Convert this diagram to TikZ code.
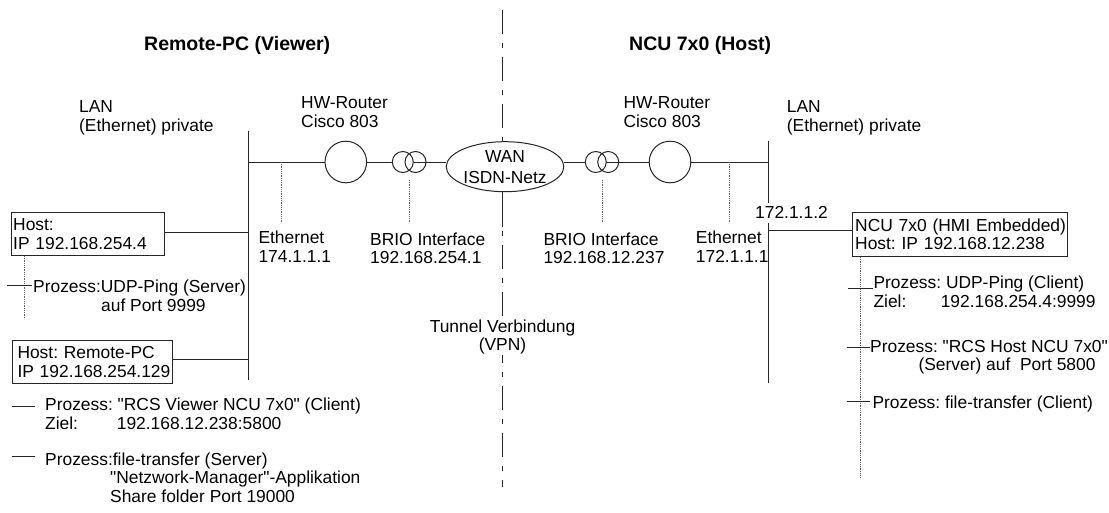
\documentclass[tikz,border=0pt]{standalone}
\usepackage{fontspec}
\setmainfont{Liberation Sans}[Ligatures=TeXOff]
\usetikzlibrary{shapes.geometric,calc}
\newcommand\tx{\fontsize{17.4}{18.5}\selectfont\frenchspacing}
\begin{document}
\frenchspacing
\begin{tikzpicture}[x=1pt,y=-1pt,
  lbl/.style={anchor=base west,inner sep=0pt,align=left,font=\tx},
  ttl/.style={anchor=base west,inner sep=0pt,font=\fontsize{19.5}{22}\selectfont\bfseries},
  ln/.style={draw=black!85,line width=1pt},
  dotln/.style={draw=black!60,line width=0.8pt,densely dotted},
  router/.style={circle,draw=black!85,line width=1pt,minimum size=41.6pt,inner sep=0pt},
  tcirc/.style={circle,draw=black!85,line width=1pt,minimum size=21pt,inner sep=0pt},
  hostbox/.style={draw=black!85,line width=1pt,anchor=north west,align=left,font=\tx,inner ysep=0pt},
]
\useasboundingbox (0,0) rectangle (1109,512);

% titles
\node[ttl] (t1) at (144,50.7) {Remote-PC (Viewer)};
\node[ttl] (t2) at (629,50.7) {NCU 7x0 (Host)};

% centre dash-dot separator
\coordinate (ctop) at (502.5,10);
\coordinate (cbot) at (502.5,487);
\draw[ln,dash pattern=on 24pt off 9pt on 5pt off 9pt] (ctop) -- (cbot);

% LAN lines
\coordinate (lanLt) at (248,130.7);
\coordinate (lanLb) at (248,380);
\coordinate (lanRt) at (768,140.7);
\coordinate (lanRb) at (768,383);
\draw[ln] (lanLt) -- (lanLb);
\draw[ln] (lanRt) -- (lanRb);

% routers, transformers, WAN
\node[router] (r1) at (345.8,162) {};
\node[tcirc] (ta1) at (402.8,162) {};
\node[tcirc] (ta2) at (415.5,162) {};
\node[ellipse,draw=black!85,line width=1pt,fill=white,minimum width=105pt,minimum height=50pt,inner sep=0pt,align=center,font=\fontsize{17.4}{21}\selectfont] (wan) at (505,166.7) {WAN\\ISDN-Netz};
\node[tcirc] (tb1) at (595.8,162) {};
\node[tcirc] (tb2) at (608.2,162) {};
\node[router] (r2) at (670,162) {};

\draw[ln] (r1.west -| lanLt) -- (r1.west);
\draw[ln] (r1.east) -- (ta1.west);
\draw[ln] (ta1.east) -- (ta1.east -| wan.west);
\draw[ln] (tb1.west -| wan.east) -- (tb1.west);
\draw[ln] (tb1.east) -- (r2.west);
\draw[ln] (r2.east) -- (r2.east -| lanRt);
\coordinate (wanb) at (502.5,227);
\draw[ln] (wanb |- wan.south) -- (wanb);

% dotted drops
\coordinate (dA) at (281.7,221.7);
\draw[dotln] (dA |- r1.west) -- (dA);
\coordinate (dBt) at (409,180);
\coordinate (dB) at (409,221.7);
\draw[dotln] (dBt) -- (dB);
\coordinate (dCt) at (602,180);
\coordinate (dC) at (602,221.7);
\draw[dotln] (dCt) -- (dC);
\coordinate (dD) at (729,221.7);
\draw[dotln] (dD |- r2.east) -- (dD);

% labels (anchor = baseline of the last line)
\node[lbl] (lanL) at (79,131.2) {LAN\\(Ethernet) private};
\node[lbl] (hw1) at (301,127.2) {HW-Router\\Cisco 803};
\node[lbl] (hw2) at (623.3,127.2) {HW-Router\\Cisco 803};
\node[lbl] (lanR) at (786.7,131.2) {LAN\\(Ethernet) private};
\node[lbl] (eth1) at (258.3,262.2) {Ethernet\\174.1.1.1};
\node[lbl] (brio1) at (370,263.5) {BRIO Interface\\192.168.254.1};
\node[lbl] (brio2) at (543.3,263.5) {BRIO Interface\\192.168.12.237};
\node[lbl] (eth2) at (695.7,262.2) {Ethernet\\172.1.1.1};
\node[lbl,fill=white,inner ysep=4pt] (ip2) at (755,218.7) {172.1.1.2};
\node[anchor=base,inner sep=1pt,align=center,font=\tx,fill=white] (tun) at (502.5,350.5) {Tunnel Verbindung\\(VPN)};

% hosts
\node[hostbox,inner xsep=2pt,text width=149.6pt,minimum height=43.3pt] (h1) at (10.7,211.7) {\mbox{Host:}\\\mbox{IP 192.168.254.4}};
\node[hostbox,inner xsep=5.3pt,text width=149.4pt,minimum height=43pt] (h2) at (11.7,340) {\mbox{Host: Remote-PC}\\\mbox{IP 192.168.254.129}};
\node[hostbox,inner xsep=3pt,text width=209pt,minimum height=44.3pt] (ncu) at (851.7,211.7) {\mbox{NCU 7x0 (HMI Embedded)}\\\mbox{Host: IP 192.168.12.238}};

\draw[ln] ([yshift=1.6pt]h1.east) -- ([yshift=1.6pt]h1.east -| lanLt);
\draw[ln] ([yshift=2.5pt]h2.east) -- ([yshift=2.5pt]h2.east -| lanLt);
\draw[ln] ([yshift=3.9pt]ncu.west) -- ([yshift=3.9pt]ncu.west -| lanRt);

% left processes
\coordinate (dL) at (24,319);
\draw[dotln] (dL |- h1.south) -- (dL);
\coordinate (pA1) at (7,285);
\coordinate (pA2) at (32,285);
\draw[ln] (pA1) -- (pA2);
\node[lbl] (p1) at (33,311) {Prozess:UDP-Ping (Server)\\\hspace*{68pt}auf Port 9999};
\coordinate (pB1) at (11.7,406);
\coordinate (pB2) at (35,406);
\draw[ln] (pB1) -- (pB2);
\node[lbl] (p2) at (45,429) {Prozess: "RCS Viewer NCU 7x0" (Client)\\\makebox[71.7pt][l]{Ziel:}192.168.12.238:5800};
\coordinate (pC1) at (12,456.7);
\coordinate (pC2) at (35,456.7);
\draw[ln] (pC1) -- (pC2);
\node[lbl] (p3) at (45,502) {Prozess:file-transfer (Server)\\\hspace*{65pt}"Netzwork-Manager"-Applikation\\\hspace*{65pt}Share folder Port 19000};

% right processes
\coordinate (dR) at (860,476.7);
\draw[dotln] (dR |- ncu.south) -- (dR);
\coordinate (qA1) at (848.3,288.3);
\coordinate (qA2) at (873.3,288.3);
\draw[ln] (qA1) -- (qA2);
\node[lbl] (q1) at (873.3,307) {Prozess: UDP-Ping (Client)\\\makebox[67.3pt][l]{Ziel:}192.168.254.4:9999};
\coordinate (qB1) at (846.7,347.7);
\coordinate (qB2) at (870,347.7);
\draw[ln] (qB1) -- (qB2);
\node[lbl] (q2) at (870,370.5) {Prozess: "RCS Host NCU 7x0"\\\hspace*{48.3pt}(Server) auf\ \ Port 5800};
\coordinate (qC1) at (846.7,401.7);
\coordinate (qC2) at (870,401.7);
\draw[ln] (qC1) -- (qC2);
\node[lbl] (q3) at (872.3,408.7) {Prozess: file-transfer (Client)};
\end{tikzpicture}
\end{document}
